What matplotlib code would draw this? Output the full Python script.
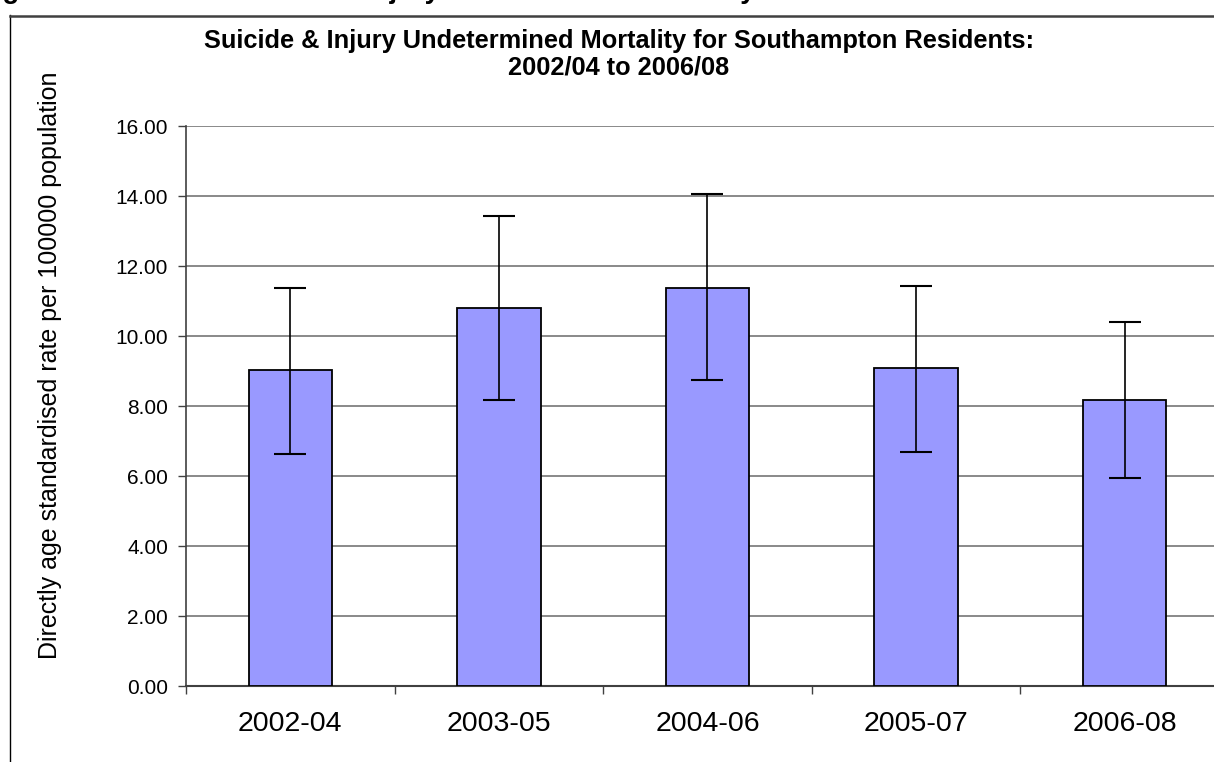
import matplotlib.pyplot as plt
import numpy as np
from matplotlib.lines import Line2D

# -------------------------------
# DATA
# -------------------------------
periods = ["2002-04", "2003-05", "2004-06", "2005-07", "2006-08"]
rates = [9.03, 10.80, 11.37, 9.08, 8.17]
upper_ci = [11.38, 13.44, 14.07, 11.44, 10.41]
lower_ci = [6.63, 8.17, 8.74, 6.69, 5.94]
y_ticks = [0, 2, 4, 6, 8, 10, 12, 14, 16]

plt.rcParams['font.family'] = ['Liberation Sans', 'DejaVu Sans']

W, H = 1214, 762
fig = plt.figure(figsize=(W / 100, H / 100), dpi=100)

# chart frame (cropped at right and bottom)
fig.add_artist(Line2D([10 / W, 10 / W], [0, 1 - 15 / H], transform=fig.transFigure,
                      color="black", lw=1.0))
fig.add_artist(Line2D([10 / W, 1], [1 - 15.5 / H, 1 - 15.5 / H], transform=fig.transFigure,
                      color="#404040", lw=1.8))

# heading above the frame, only its bottom edge is visible
fig.text(-22 / W, 1 + 1.5 / H, "Figure 10: Trend in Suicide & Injury Undetermined Mortality",
         fontsize=19.8, fontweight="bold", ha="left", va="baseline")

ax = fig.add_axes([186 / W, 76 / H, 1043 / W, 560 / H])

x = np.arange(len(periods))
rates_a = np.array(rates)
yerr = [rates_a - np.array(lower_ci), np.array(upper_ci) - rates_a]

ax.bar(x, rates, width=0.4, color="#9999FF", edgecolor="black", linewidth=1.3, zorder=3)
ax.errorbar(x, rates, yerr=yerr, fmt="none", ecolor="black", elinewidth=1.2,
            capsize=11.5, capthick=1.5, zorder=4)

ax.set_xlim(-0.5, len(periods) - 0.5)
ax.set_ylim(0, 16)
ax.set_yticks(y_ticks)
ax.set_yticklabels([f"{v:.2f}" for v in y_ticks], fontsize=15)
ax.set_xticks(x)
ax.set_xticklabels(periods, fontsize=20.5)
ax.set_xticks(np.arange(len(periods) + 1) - 0.5, minor=True)

ax.tick_params(axis="x", which="major", length=0, pad=18)
ax.tick_params(axis="x", which="minor", length=6, width=1, color="#404040", direction="out")
ax.tick_params(axis="y", length=6, width=1, color="#404040", pad=7)

ax.grid(axis="y", color="#808080", linewidth=1.3, zorder=0)
ax.set_axisbelow(True)

for s in ["top", "right"]:
    ax.spines[s].set_visible(False)
ax.spines["left"].set_color("#404040")
ax.spines["bottom"].set_color("#404040")
ax.spines["left"].set_linewidth(1.2)
ax.spines["bottom"].set_linewidth(1.5)

ax.set_ylabel("Directly age standardised rate per 100000 population", fontsize=18)
ax.yaxis.set_label_coords(-(186 - 62) / 1043, (686 - 365.5) / 560)

fig.text(619 / W, 1 - 29 / H,
         "Suicide & Injury Undetermined Mortality for Southampton Residents:\n2002/04 to 2006/08",
         fontsize=18.3, fontweight="bold", ha="center", va="top", linespacing=1.15)

fig.savefig("out.png", dpi=100)
